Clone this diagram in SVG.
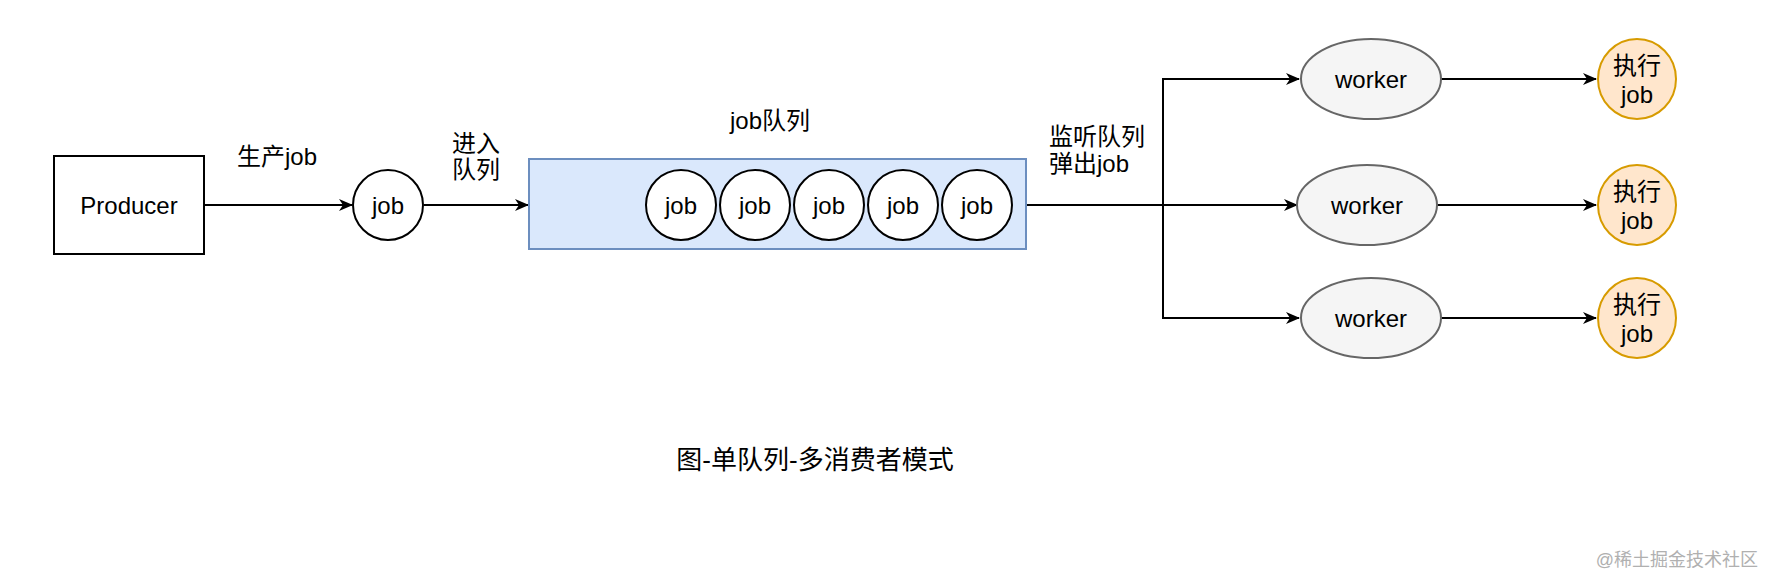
<svg xmlns="http://www.w3.org/2000/svg" width="1776" height="588" viewBox="0 0 1776 588">
<style>
text{font-family:"Liberation Sans","Noto Sans CJK SC",sans-serif;font-size:24px;fill:#000;dominant-baseline:central;text-anchor:middle}
.lbl{text-anchor:start}
.edge{fill:none;stroke:#000;stroke-width:2}
.job{fill:#fff;stroke:#000;stroke-width:2}
.worker{fill:#f5f5f5;stroke:#666;stroke-width:2}
.exec{fill:#ffe6cc;stroke:#d79b00;stroke-width:2}
</style>
<defs>
<marker id="arr" viewBox="0 0 14 12" refX="13" refY="6" markerWidth="14" markerHeight="12" markerUnits="userSpaceOnUse" orient="auto">
<path d="M0,0 L14,6 L0,12 L4,6 z" fill="#000"/>
</marker>
</defs>
<rect width="1776" height="588" fill="#fff"/>
<g id="connectors">
<path class="edge" d="M204,205 H352" marker-end="url(#arr)"/>
<path class="edge" d="M424,205 H528" marker-end="url(#arr)"/>
<path class="edge" d="M1026,205 H1297" marker-end="url(#arr)"/>
<path class="edge" d="M1163,205 V79 H1299" marker-end="url(#arr)"/>
<path class="edge" d="M1163,205 V318 H1299" marker-end="url(#arr)"/>
<path class="edge" d="M1441,79 H1596" marker-end="url(#arr)"/>
<path class="edge" d="M1437,205 H1596" marker-end="url(#arr)"/>
<path class="edge" d="M1441,318 H1596" marker-end="url(#arr)"/>
</g>
<g id="labels">
<text x="277" y="156">生产job</text>
<text class="lbl" x="452" y="143">进入</text>
<text class="lbl" x="452" y="169">队列</text>
<text x="770" y="120">job队列</text>
<text class="lbl" x="1049" y="136">监听队列</text>
<text class="lbl" x="1049" y="163">弹出job</text>
</g>
<g id="producer">
<rect x="54" y="156" width="150" height="98" fill="#fff" stroke="#000" stroke-width="2"/>
<text x="129" y="205">Producer</text>
</g>
<g id="job-new">
<circle class="job" cx="388" cy="205" r="35"/>
<text x="388" y="205">job</text>
</g>
<g id="queue">
<rect x="529" y="159" width="497" height="90" fill="#dae8fc" stroke="#6c8ebf" stroke-width="2"/>
</g>
<g id="queue-job-1"><circle class="job" cx="681" cy="205" r="35"/><text x="681" y="205">job</text></g>
<g id="queue-job-2"><circle class="job" cx="755" cy="205" r="35"/><text x="755" y="205">job</text></g>
<g id="queue-job-3"><circle class="job" cx="829" cy="205" r="35"/><text x="829" y="205">job</text></g>
<g id="queue-job-4"><circle class="job" cx="903" cy="205" r="35"/><text x="903" y="205">job</text></g>
<g id="queue-job-5"><circle class="job" cx="977" cy="205" r="35"/><text x="977" y="205">job</text></g>
<g id="worker-1"><ellipse class="worker" cx="1371" cy="79" rx="70" ry="40"/><text x="1371" y="79">worker</text></g>
<g id="worker-2"><ellipse class="worker" cx="1367" cy="205" rx="70" ry="40"/><text x="1367" y="205">worker</text></g>
<g id="worker-3"><ellipse class="worker" cx="1371" cy="318" rx="70" ry="40"/><text x="1371" y="318">worker</text></g>
<g id="exec-1"><ellipse class="exec" cx="1637" cy="79" rx="39" ry="40"/><text x="1637" y="65">执行</text><text x="1637" y="94">job</text></g>
<g id="exec-2"><ellipse class="exec" cx="1637" cy="205" rx="39" ry="40"/><text x="1637" y="191">执行</text><text x="1637" y="220">job</text></g>
<g id="exec-3"><ellipse class="exec" cx="1637" cy="318" rx="39" ry="40"/><text x="1637" y="304">执行</text><text x="1637" y="333">job</text></g>
<g id="caption">
<text x="815" y="460" style="font-size:26px">图-单队列-多消费者模式</text>
</g>
<g id="watermark">
<text x="1758" y="560" style="font-size:18px;fill:#b0b0b0;text-anchor:end">@稀土掘金技术社区</text>
</g>
</svg>
